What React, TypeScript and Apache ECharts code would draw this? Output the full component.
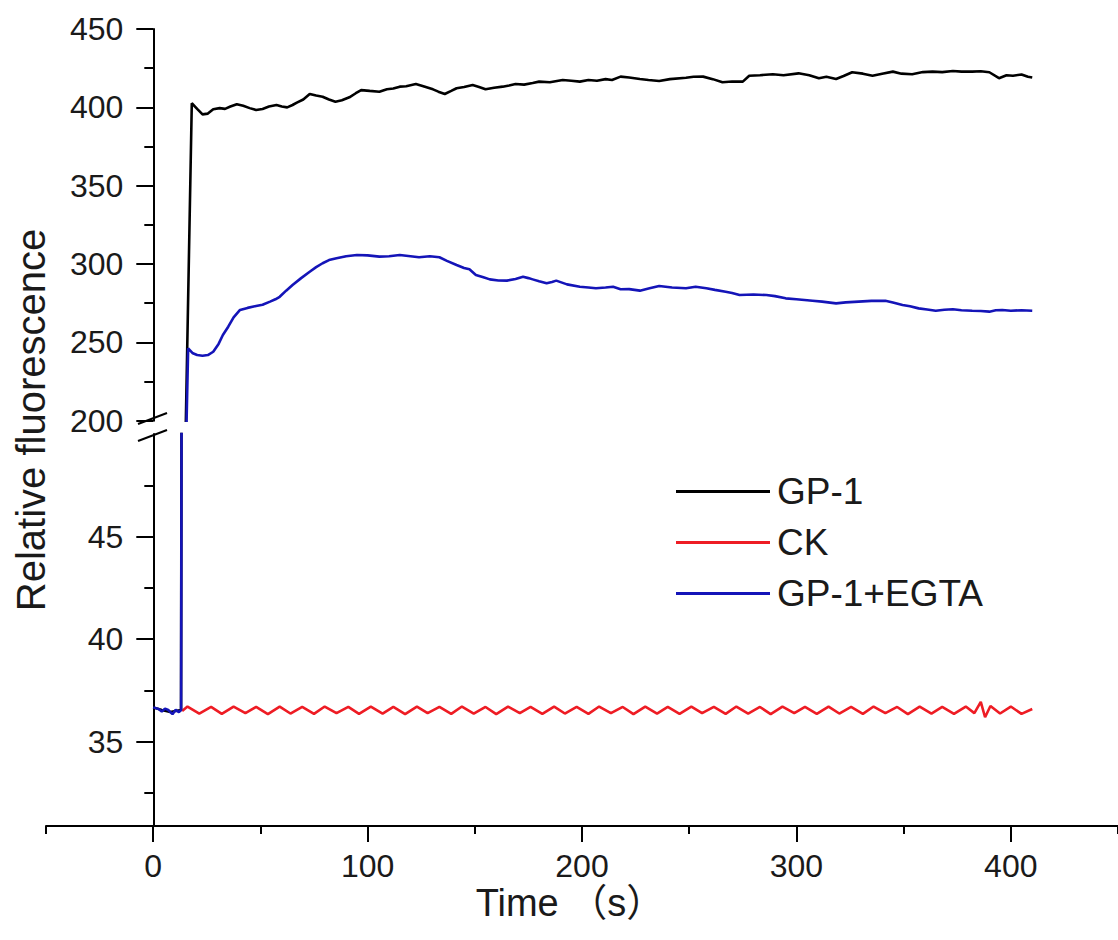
import React, { useEffect, useRef } from "react";
import * as echarts from "echarts";

const FONT = "'Liberation Sans', Arial, 'Noto Sans CJK SC', sans-serif";

// ---- Data ----
const gp1Time = [0, 4, 8, 13, 18, 20.5, 23, 25.5, 28, 31, 33.5, 36, 39, 42, 45, 48, 51, 54, 57.5, 60, 62.5, 65, 67, 70, 73, 76, 79, 82, 85, 88, 91.5, 94.5, 97, 101, 105.5, 109, 112, 115, 118, 122.5, 126, 130.5, 133, 136, 139, 141.5, 145, 149, 152, 155, 159, 163, 166, 169, 173, 177, 180, 185, 191, 195, 199, 203, 207, 211, 214, 218, 222, 227, 231, 236, 241, 248.5, 252, 256.5, 261, 265.5, 270, 275, 278, 283, 289, 294, 301, 306, 310.5, 314, 318.5, 322, 326, 331, 335.5, 340, 345, 349, 354, 359, 363.5, 368, 373, 377, 382, 386, 390, 394.5, 398, 401, 405, 408, 410];
const gp1Values = [36.68, 36.55, 36.45, 36.55, 402.6, 399, 395.5, 396, 398.8, 399.5, 399, 400.5, 402, 401, 399.5, 398.3, 399, 400.5, 401.5, 400.5, 400, 401.5, 403, 405, 408.5, 407.5, 406.8, 405, 403.6, 404.5, 406.4, 409, 411, 410.5, 410, 411.5, 412, 413.2, 413.5, 414.9, 413.5, 411.5, 410, 408.5, 410.5, 412.2, 413, 414.3, 413, 411.5, 412.5, 413.2, 414, 414.9, 414.5, 415.5, 416.4, 416, 417.5, 417, 416.4, 417.5, 417, 418, 417.5, 419.6, 419, 418.1, 417.5, 416.8, 418, 418.9, 419.5, 419.6, 418, 416, 416.5, 416.4, 420.2, 420.5, 421.1, 420.5, 421.7, 420.5, 418.6, 419.5, 418.1, 420, 422.4, 421.5, 420.2, 421.5, 422.8, 421.5, 421.1, 422.5, 422.8, 422.5, 423.2, 422.8, 422.8, 423, 422.4, 418.6, 420.5, 420.2, 421, 419.5, 419];

const ckTime = [13.5, 16, 21.5, 27, 32, 37.5, 43, 48, 53.5, 59, 64, 69.5, 75, 80, 85.5, 91, 96, 101.5, 107, 112, 117.5, 123, 128, 133.5, 139, 144, 149.5, 155, 160, 165.5, 171, 176, 181.5, 187, 192, 197.5, 203, 208, 213.5, 219, 224, 229.5, 235, 240, 245.5, 251, 256, 261.5, 267, 272, 277.5, 283, 288, 293.5, 299, 304, 309.5, 315, 320, 325.5, 331, 336, 341.5, 347, 352, 357.5, 363, 368, 373.5, 379, 383, 386, 388, 390.5, 395, 400, 405, 410];
const ckValues = [36.5, 36.72, 36.38, 36.7, 36.36, 36.72, 36.4, 36.7, 36.35, 36.72, 36.38, 36.7, 36.36, 36.72, 36.4, 36.7, 36.36, 36.72, 36.38, 36.7, 36.35, 36.72, 36.4, 36.7, 36.36, 36.72, 36.38, 36.7, 36.35, 36.72, 36.4, 36.7, 36.36, 36.72, 36.38, 36.7, 36.36, 36.72, 36.4, 36.7, 36.35, 36.72, 36.38, 36.7, 36.36, 36.72, 36.4, 36.7, 36.36, 36.72, 36.38, 36.7, 36.35, 36.72, 36.4, 36.7, 36.36, 36.72, 36.38, 36.7, 36.36, 36.72, 36.4, 36.7, 36.35, 36.72, 36.38, 36.7, 36.36, 36.72, 36.4, 36.95, 36.2, 36.75, 36.38, 36.72, 36.36, 36.6];

const egtaTime = [0, 2.5, 4, 5.5, 7, 9, 10.5, 12, 13, 16.3, 18.5, 20.5, 23, 25.5, 28, 30.5, 32.5, 35, 37.5, 40.5, 44, 48, 51, 54.5, 57, 59, 62, 65, 69, 73, 76, 79, 82, 85.5, 90, 95, 100, 105.5, 110, 115, 120, 124, 129, 133.5, 137, 141.5, 145, 147.5, 150.5, 154, 157, 161, 165, 169, 172.5, 175, 177, 180, 183.5, 186, 188, 193, 199, 203, 206.5, 211, 214.5, 218, 222, 227, 231.5, 236, 242, 248.5, 253, 258, 262, 267, 270, 273.5, 280, 286, 290, 295, 300, 307.5, 312, 318.5, 323, 329, 335, 341.5, 345, 349.5, 353, 357, 361, 365, 369, 373, 377, 382, 386, 390, 393, 396, 400, 405, 410];
const egtaValues = [36.68, 36.6, 36.48, 36.62, 36.55, 36.35, 36.56, 36.45, 36.55, 246.2, 243, 241.9, 241.5, 241.9, 244, 249, 254.7, 260, 266, 270.7, 272, 273.2, 274, 276, 277.5, 279.1, 283, 286.6, 291, 295.1, 298, 300.5, 302.5, 303.7, 305, 305.8, 305.5, 304.7, 305, 305.8, 305, 304.3, 305, 304.3, 302, 299.4, 297.5, 296.6, 293, 291.5, 290.2, 289.5, 289.4, 290.5, 291.9, 291, 290.2, 289, 287.7, 288.5, 289.4, 287, 285.5, 285, 284.5, 285, 285.5, 283.9, 284, 283, 284.5, 286, 285, 284.5, 285.5, 284.5, 283.5, 282.3, 281.5, 280.2, 280.5, 280.2, 279.5, 278.1, 277.5, 276.6, 276, 274.9, 275.5, 276, 276.5, 276.6, 275.5, 273.9, 273, 271.7, 271, 270.2, 270.8, 271.1, 270.5, 270.2, 270, 269.6, 270.5, 270.7, 270.2, 270.5, 270.2];

const seriesNames = ["GP-1", "CK", "GP-1+EGTA"];
const seriesColors = ["#000000", "#ee1c24", "#1414b8"];

const xMajorTicks = [0, 100, 200, 300, 400];
const xMinorTicks = [-50, 50, 150, 250, 350, 450];
const lowerMajorTicks = [35, 40, 45];
const lowerMinorTicks = [32.5, 37.5, 42.5, 47.5];

const zip = (t: number[], v: number[]) => t.map((x, i) => [x, v[i]]);

export default function App() {
  const ref = useRef<HTMLDivElement>(null);

  useEffect(() => {
    if (!ref.current) return;
    const chart = echarts.init(ref.current, null, { renderer: "svg" });

    const axisLineStyle = { color: "#000", width: 2 };
    const labelStyle = { fontSize: 32, color: "#1a1a1a", fontFamily: FONT };
    const gridLeft = 46;
    const gridWidth = 1073;
    const yOffset = -107.3;

    const datasets = [zip(gp1Time, gp1Values), zip(ckTime, ckValues), zip(egtaTime, egtaValues)];
    const series: any[] = [];
    datasets.forEach((d, i) => {
      [0, 1].forEach((g) => {
        series.push({
          type: "line",
          name: seriesNames[i],
          data: d,
          xAxisIndex: g,
          yAxisIndex: g,
          symbol: "none",
          showSymbol: false,
          clip: true,
          silent: true,
          z: 2 + i,
          lineStyle: { color: seriesColors[i], width: 2.6 },
          itemStyle: { color: seriesColors[i] },
        });
      });
    });

    chart.setOption({
      animation: false,
      backgroundColor: "#ffffff",
      grid: [
        { left: gridLeft, top: 29, width: gridWidth, height: 391.7 },
        { left: gridLeft, top: 434, width: gridWidth, height: 392 },
      ],
      xAxis: [
        { gridIndex: 0, type: "value", min: -50, max: 450, show: false },
        {
          gridIndex: 1,
          type: "value",
          position: "bottom",
          min: -50,
          max: 450,
          axisLine: { show: true, onZero: false, lineStyle: axisLineStyle },
          axisTick: { show: true, customValues: xMajorTicks, length: 16, lineStyle: axisLineStyle },
          axisLabel: { show: true, customValues: xMajorTicks, margin: 24, ...labelStyle },
          splitLine: { show: false },
          name: "Time （s）",
          nameLocation: "middle",
          nameGap: 58,
          nameMoveOverlap: false,
          nameTextStyle: { fontSize: 38, color: "#1a1a1a", fontFamily: FONT, padding: [0, 24, 0, 0] },
        },
        {
          gridIndex: 1,
          type: "value",
          position: "bottom",
          min: -50,
          max: 450,
          axisLine: { show: false, onZero: false },
          axisTick: { show: true, customValues: xMinorTicks, length: 8, lineStyle: axisLineStyle },
          axisLabel: { show: false },
          splitLine: { show: false },
        },
      ],
      yAxis: [
        {
          gridIndex: 0,
          type: "value",
          position: "left",
          min: 200,
          max: 450,
          interval: 50,
          offset: yOffset,
          axisLine: { show: true, onZero: false, lineStyle: axisLineStyle },
          axisTick: { show: true, length: 17, lineStyle: axisLineStyle },
          minorTick: { show: true, splitNumber: 2, length: 9, lineStyle: axisLineStyle },
          axisLabel: { show: true, margin: 30, ...labelStyle },
          splitLine: { show: false },
          minorSplitLine: { show: false },
        },
        {
          gridIndex: 1,
          type: "value",
          position: "left",
          min: 30.9,
          max: 50,
          offset: yOffset,
          axisLine: { show: true, onZero: false, lineStyle: axisLineStyle },
          axisTick: { show: true, customValues: lowerMajorTicks, length: 17, lineStyle: axisLineStyle },
          axisLabel: { show: true, customValues: lowerMajorTicks, margin: 30, ...labelStyle },
          splitLine: { show: false },
        },
        {
          gridIndex: 1,
          type: "value",
          position: "left",
          min: 30.9,
          max: 50,
          offset: yOffset,
          axisLine: { show: false, onZero: false },
          axisTick: { show: true, customValues: lowerMinorTicks, length: 9, lineStyle: axisLineStyle },
          axisLabel: { show: false },
          splitLine: { show: false },
        },
      ],
      legend: {
        orient: "vertical",
        left: 671,
        top: 468,
        icon: "rect",
        itemWidth: 94,
        itemHeight: 3,
        itemGap: 14,
        data: seriesNames,
        selectedMode: false,
        textStyle: { fontSize: 37, color: "#1a1a1a", fontFamily: FONT, padding: [0, 0, 0, 2] },
      },
      graphic: [
        {
          type: "text",
          x: 31,
          y: 420,
          rotation: Math.PI / 2,
          style: {
            text: "Relative fluorescence",
            fontSize: 40,
            fontFamily: FONT,
            fill: "#1a1a1a",
            textAlign: "center",
            textVerticalAlign: "middle",
          },
        },
        {
          type: "line",
          shape: { x1: 138, y1: 424, x2: 167, y2: 413 },
          style: { stroke: "#000", lineWidth: 2 },
        },
        {
          type: "line",
          shape: { x1: 138, y1: 441, x2: 167, y2: 430 },
          style: { stroke: "#000", lineWidth: 2 },
        },
      ],
      series,
    });

    return () => chart.dispose();
  }, []);

  return (
    <div
      ref={ref}
      style={{ position: "absolute", left: 0, top: 0, width: 1118, height: 940, background: "#fff" }}
    />
  );
}
